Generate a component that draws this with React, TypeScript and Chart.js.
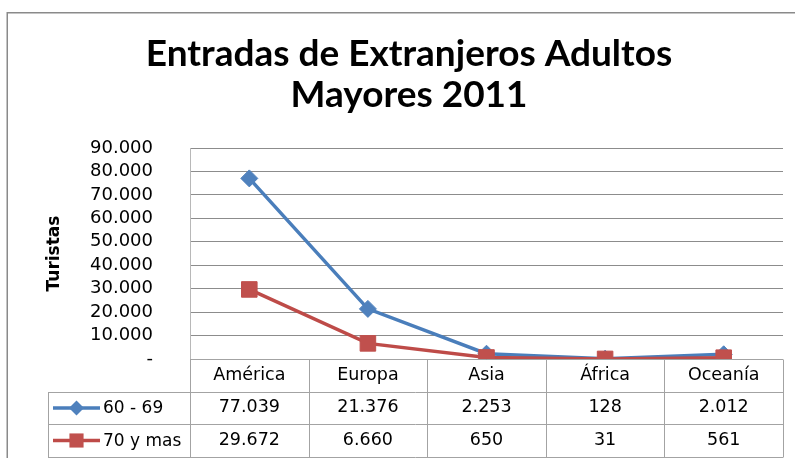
import React, { useEffect, useRef } from 'react';
import { Chart, registerables } from 'chart.js';

Chart.register(...registerables);

// ---- data ----
const titleLines = ['Entradas de Extranjeros Adultos', 'Mayores 2011'];
const yAxisTitle = 'Turistas';
const categories = ['América', 'Europa', 'Asia', 'África', 'Oceanía'];
const seriesNames = ['60 - 69', '70 y mas'];
const values6069 = [77039, 21376, 2253, 128, 2012];
const values70 = [29672, 6660, 650, 31, 561];
const yMin = 0;
const yMax = 90000;
const yStep = 10000;

// ---- styles ----
const BLUE_LINE = '#4A7EBB';
const BLUE_MARK = '#4F81BD';
const RED_LINE = '#BE4B48';
const RED_MARK = '#C0504D';
const SANS = '"DejaVu Sans", sans-serif';
const TITLE_FONT = 'Lato, "DejaVu Sans", sans-serif';
const TABLE_LINE = '#a3a3a3';

function fmt(v: number): string {
  if (v === 0) return '-';
  return String(v).replace(/\B(?=(\d{3})+(?!\d))/g, '.');
}

function drawMarker(ctx: CanvasRenderingContext2D, style: string, x: number, y: number, r: number, color: string) {
  ctx.save();
  ctx.fillStyle = color;
  ctx.beginPath();
  if (style === 'rectRot') {
    ctx.moveTo(x - r, y);
    ctx.lineTo(x, y - r);
    ctx.lineTo(x + r, y);
    ctx.lineTo(x, y + r);
    ctx.closePath();
  } else {
    const s = r * Math.SQRT1_2;
    ctx.rect(x - s, y - s, 2 * s, 2 * s);
  }
  ctx.fill();
  ctx.restore();
}

const framePlugin = {
  id: 'frame',
  beforeDraw(chart: any) {
    const ctx = chart.ctx as CanvasRenderingContext2D;
    ctx.save();
    ctx.strokeStyle = '#8a8a8a';
    ctx.lineWidth = 1.5;
    ctx.beginPath();
    ctx.moveTo(7.25, chart.height + 2);
    ctx.lineTo(7.25, 12.75);
    ctx.lineTo(chart.width + 2, 12.75);
    ctx.stroke();
    ctx.restore();
  },
};

const seriesMeta = [
  { name: seriesNames[0], values: values6069, line: BLUE_LINE, mark: BLUE_MARK, style: 'rectRot', r: 8.5 },
  { name: seriesNames[1], values: values70, line: RED_LINE, mark: RED_MARK, style: 'rect', r: 11 },
];

const tablePlugin = {
  id: 'dataTable',
  afterDraw(chart: any) {
    const ctx = chart.ctx as CanvasRenderingContext2D;
    const area = chart.chartArea;
    const xs = chart.scales.x;
    const n = categories.length;
    const colW = (area.right - area.left) / n;
    const rowH = 32.6;
    const top = area.bottom;
    const rowY = [top, top + rowH, top + 2 * rowH, top + 3 * rowH];
    const legendLeft = 48;
    const edges: number[] = [];
    for (let i = 0; i < n; i++) edges.push(xs.getPixelForValue(i) - colW / 2);
    edges.push(area.right);
    const px = (v: number) => Math.round(v) + 0.5;

    ctx.save();
    ctx.strokeStyle = TABLE_LINE;
    ctx.lineWidth = 1;
    ctx.beginPath();
    ctx.moveTo(edges[0], px(rowY[0]));
    ctx.lineTo(edges[n], px(rowY[0]));
    for (let r = 1; r < 4; r++) {
      ctx.moveTo(legendLeft, px(rowY[r]));
      ctx.lineTo(edges[n], px(rowY[r]));
    }
    ctx.moveTo(px(legendLeft), px(rowY[1]));
    ctx.lineTo(px(legendLeft), px(rowY[3]));
    for (let i = 0; i <= n; i++) {
      ctx.moveTo(px(edges[i]), px(rowY[0]));
      ctx.lineTo(px(edges[i]), px(rowY[3]));
    }
    ctx.stroke();

    ctx.fillStyle = '#000';
    ctx.textAlign = 'center';
    ctx.textBaseline = 'middle';
    ctx.font = `17.5px ${SANS}`;
    for (let i = 0; i < n; i++) {
      const cx = xs.getPixelForValue(i);
      ctx.fillText(categories[i], cx, (rowY[0] + rowY[1]) / 2);
      seriesMeta.forEach((s, k) => {
        ctx.fillText(fmt(s.values[i]), cx, (rowY[k + 1] + rowY[k + 2]) / 2);
      });
    }

    seriesMeta.forEach((s, k) => {
      const cy = (rowY[k + 1] + rowY[k + 2]) / 2;
      ctx.save();
      ctx.strokeStyle = s.line;
      ctx.lineWidth = 3.5;
      ctx.beginPath();
      ctx.moveTo(53, cy);
      ctx.lineTo(100, cy);
      ctx.stroke();
      ctx.restore();
      drawMarker(ctx, s.style, 76.5, cy, s.r - 1, s.mark);
      ctx.fillStyle = '#000';
      ctx.textAlign = 'left';
      ctx.font = `17px ${SANS}`;
      ctx.fillText(s.name, 103, cy + 1);
    });
    ctx.restore();
  },
};

export default function App() {
  const ref = useRef<HTMLCanvasElement>(null);

  useEffect(() => {
    const canvas = ref.current;
    if (!canvas) return;
    const chart = new Chart(canvas, {
      type: 'line',
      data: {
        labels: categories,
        datasets: seriesMeta.map((s, k) => ({
          label: s.name,
          data: s.values,
          borderColor: s.line,
          backgroundColor: s.mark,
          pointBackgroundColor: s.mark,
          pointBorderColor: s.mark,
          pointBorderWidth: 1,
          pointStyle: s.style as any,
          pointRadius: s.r,
          borderWidth: 3.5,
          tension: 0,
          fill: false,
          order: k === 0 ? 1 : 0,
        })),
      },
      options: {
        responsive: false,
        animation: false,
        devicePixelRatio: 1,
        events: [],
        layout: { padding: { left: 32, right: 9, top: 0, bottom: 99 } },
        plugins: {
          legend: { display: false },
          tooltip: { enabled: false },
          title: {
            display: true,
            text: titleLines,
            color: '#000',
            font: { family: TITLE_FONT, size: 37, weight: 'bold', lineHeight: 41 / 37 },
            padding: { top: 34, bottom: 32 },
          },
        },
        scales: {
          x: {
            display: false,
            offset: true,
          },
          y: {
            min: yMin,
            max: yMax,
            afterFit: (scale: any) => {
              scale.width = 158;
            },
            ticks: {
              stepSize: yStep,
              autoSkip: false,
              callback: (v: any) => fmt(Number(v)),
              color: '#000',
              font: { family: SANS, size: 18 },
              padding: 37,
            },
            grid: { color: '#8c8c8c', lineWidth: 1, drawTicks: false },
            border: { display: true, color: '#b8b8b8', width: 1 },
            title: {
              display: true,
              text: yAxisTitle,
              color: '#000',
              font: { family: SANS, size: 17, weight: 'bold' },
              padding: { top: 12, bottom: 0 },
            },
          },
        },
      },
      plugins: [framePlugin, tablePlugin],
    });
    return () => chart.destroy();
  }, []);

  return (
    <div style={{ position: 'fixed', left: 0, top: 0, width: 795, height: 458, background: '#fff' }}>
      <canvas ref={ref} width={795} height={458} style={{ display: 'block', width: 795, height: 458 }} />
    </div>
  );
}
